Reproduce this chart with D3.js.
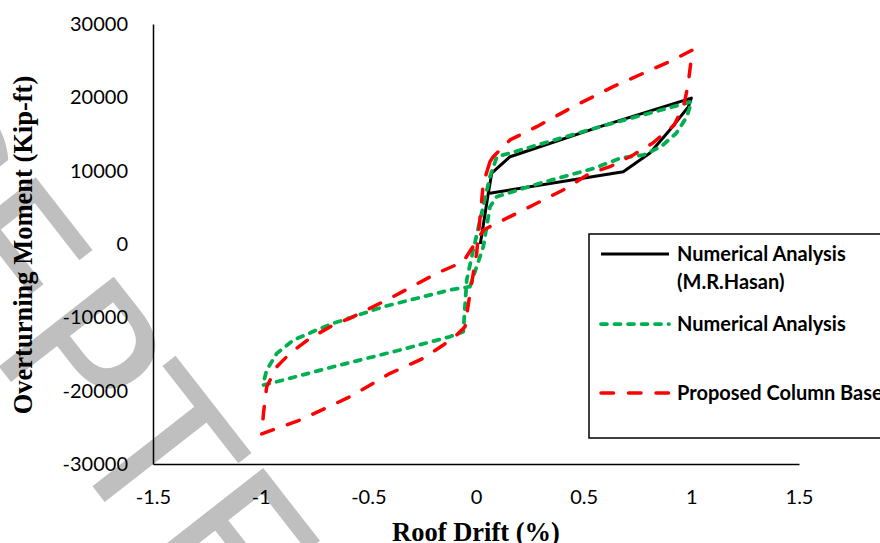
<!DOCTYPE html>
<html>
<head>
<meta charset="utf-8">
<script src="https://cdn.jsdelivr.net/npm/d3@7"></script>
<style>
	html, body { margin: 0; padding: 0; background: #fff; }
	svg { display: block; }
</style>
</head>
<body>
<svg id="chart" width="880" height="543"></svg>
<script>
// values
const xTicks = [-1.5, -1, -0.5, 0, 0.5, 1, 1.5];
const yTicks = [-30000, -20000, -10000, 0, 10000, 20000, 30000];

const hasanDrift = [0.02, 0.057, 0.073, 0.158, 0.576, 1.0, 0.986, 0.9, 0.808, 0.684, 0.057];
const hasanMoment = [0, 6900, 9650, 11900, 16000, 19900, 18700, 15550, 12400, 9850, 6900];

const numericDrift = [
	-0.028, 0.034, 0.065, 0.096, 0.297, 0.545, 0.67, 0.78, 0.86, 0.93, 0.98, 1.0,
	0.576, 0.158, 0.097, 0.065, 0.019, -0.013, -0.043, -0.059,
	-0.121, -0.353, -0.663, -0.895, -0.99, -0.972, -0.925, -0.848, -0.74, -0.663, -0.43, -0.121, -0.028
];
const numericMoment = [
	-5820, -370, 5090, 6450, 8280, 10300, 11700, 12150, 13300, 15100, 17400, 19400,
	16000, 12400, 11900, 9200, 3270, -820, -4900, -11960,
	-12640, -14460, -16740, -18550, -19250, -17190, -14910, -13100, -11730, -10820, -8550, -6270, -5820
];

const proposedDrift = [
	0.065, 0.08, 0.158, 0.282, 0.452, 0.637, 0.916, 1.005, 0.985, 0.966, 0.92, 0.82, 0.73, 0.622,
	0.529, 0.405, 0.266, 0.158, 0.05, 0.035, -0.059, -0.182, -0.399, -0.585, -0.663, -0.771,
	-0.864, -0.925, -0.956, -0.972, -0.987, -0.995, -0.817, -0.585, -0.399, -0.245, -0.152,
	-0.09, -0.051, -0.028, 0.003, 0.034, 0.065
];
const proposedMoment = [
	11230, 11900, 14190, 16000, 18730, 21460, 25100, 26460, 21800, 18960, 16200, 13740, 12140, 10540,
	9640, 7370, 5320, 3730, 2140, 1910, -2410, -4000, -7400, -10130, -11050, -12860,
	-14910, -16740, -18550, -19460, -23090, -25900, -24000, -20830, -17640, -15590, -13780,
	-12410, -11280, -6730, -1270, 8280, 11230
];

const seriesNames = ['Numerical Analysis', 'Numerical Analysis', 'Proposed Column Base'];

const svg = d3.select('#chart');

// watermark
svg.append('text')
	.attr('transform', 'translate(7,377) rotate(52)')
	.attr('x', -572)
	.attr('y', 0)
	.attr('font-family', 'DejaVu Sans')
	.attr('font-size', 200)
	.attr('fill', '#bfbfbf')
	.text('ACCEPTED MANUSCRIPT');

const x = d3.scaleLinear().domain([-1.5, 1.5]).range([153, 799]);
const y = d3.scaleLinear().domain([-30000, 30000]).range([464, 24]);

const yAxis = svg.append('g')
	.attr('transform', `translate(${x(-1.5)},0)`)
	.call(d3.axisLeft(y).tickValues(yTicks).tickSize(0).tickPadding(25).tickFormat(d3.format('d')));
const xAxis = svg.append('g')
	.attr('transform', `translate(0,${y(-30000)})`)
	.call(d3.axisBottom(x).tickValues(xTicks).tickSize(0).tickPadding(26).tickFormat((d) => String(d)));

[xAxis, yAxis].forEach((g) => {
	g.attr('font-family', 'Lato').attr('font-size', 20);
	g.select('.domain').attr('stroke', '#000').attr('stroke-width', 1.5);
	g.selectAll('text').attr('fill', '#000').text(function () {
		return this.textContent.replace('\u2212', '-');
	});
});

// axis titles
svg.append('text')
	.attr('x', 476)
	.attr('y', 541)
	.attr('text-anchor', 'middle')
	.attr('font-family', 'Liberation Serif')
	.attr('font-weight', 'bold')
	.attr('font-size', 26.5)
	.text('Roof Drift (%)');
svg.append('text')
	.attr('transform', 'translate(32,245) rotate(-90)')
	.attr('text-anchor', 'middle')
	.attr('font-family', 'Liberation Serif')
	.attr('font-weight', 'bold')
	.attr('font-size', 26.5)
	.text('Overturning Moment (Kip-ft)');

const line = d3.line().x((d) => x(d[0])).y((d) => y(d[1]));

const styles = [
	{ color: '#000000', width: 3, dash: null, cap: 'butt' },
	{ color: '#00b050', width: 3.75, dash: '6,7.5', cap: 'round' },
	{ color: '#ff0000', width: 3.5, dash: '12.5,15', cap: 'round' }
];

const series = [
	d3.zip(hasanDrift, hasanMoment),
	d3.zip(numericDrift, numericMoment),
	d3.zip(proposedDrift, proposedMoment)
];

svg.append('g')
	.selectAll('path')
	.data(series)
	.join('path')
	.attr('d', line)
	.attr('fill', 'none')
	.attr('stroke', (d, i) => styles[i].color)
	.attr('stroke-width', (d, i) => styles[i].width)
	.attr('stroke-dasharray', (d, i) => styles[i].dash)
	.attr('stroke-linecap', (d, i) => styles[i].cap)
	.attr('stroke-linejoin', 'round');

// legend
const legend = svg.append('g');
legend.append('rect')
	.attr('x', 589)
	.attr('y', 234)
	.attr('width', 320)
	.attr('height', 204)
	.attr('fill', '#fff')
	.attr('stroke', '#000')
	.attr('stroke-width', 1.5);

const rows = [254, 324, 393];
rows.forEach((ry, i) => {
	legend.append('line')
		.attr('x1', 601)
		.attr('x2', 669)
		.attr('y1', ry)
		.attr('y2', ry)
		.attr('stroke', styles[i].color)
		.attr('stroke-width', styles[i].width)
		.attr('stroke-dasharray', styles[i].dash)
		.attr('stroke-linecap', styles[i].cap);
	legend.append('text')
		.attr('x', 677)
		.attr('y', ry + 7)
		.attr('font-family', 'Lato')
		.attr('font-weight', 'bold')
		.attr('font-size', 20)
		.text(seriesNames[i]);
});
legend.append('text')
	.attr('x', 677)
	.attr('y', 289)
	.attr('font-family', 'Lato')
	.attr('font-weight', 'bold')
	.attr('font-size', 20)
	.text('(M.R.Hasan)');
</script>
</body>
</html>
